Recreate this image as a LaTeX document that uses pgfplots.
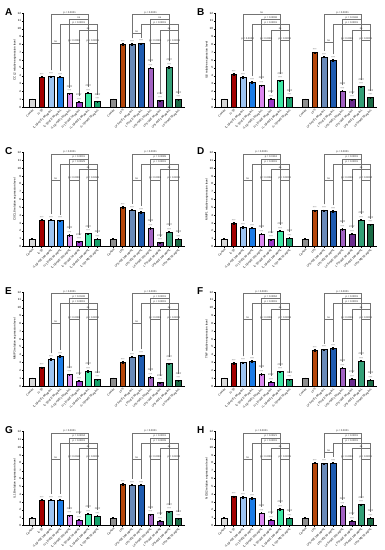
\documentclass[border=0pt]{standalone}
\usepackage{fontspec}
\setmainfont{Liberation Sans}
\usepackage{pgfplots}
\pgfplotsset{compat=1.18}
\definecolor{cL0}{HTML}{D9D9D9}
\definecolor{cL1}{HTML}{A30000}
\definecolor{cL2}{HTML}{9EC5F2}
\definecolor{cL3}{HTML}{1C7CE6}
\definecolor{cL4}{HTML}{DD88F0}
\definecolor{cL5}{HTML}{9C37C9}
\definecolor{cL6}{HTML}{3DE8A4}
\definecolor{cL7}{HTML}{16A06A}
\definecolor{cR0}{HTML}{8F8F8F}
\definecolor{cR1}{HTML}{B5470B}
\definecolor{cR2}{HTML}{6A8AB8}
\definecolor{cR3}{HTML}{1E5BB0}
\definecolor{cR4}{HTML}{A262C2}
\definecolor{cR5}{HTML}{6C2C8E}
\definecolor{cR6}{HTML}{34A077}
\definecolor{cR7}{HTML}{1A6B45}
\newcommand\stars{****}
\newcommand\hashes{\#\#\#\#}
\newcommand\two{\shortstack{\hashes\\\stars}}
\pgfplotsset{
 bs/.style={ybar, bar shift=0pt, bar width=0.62, draw=black, line width=0.3pt,
   error bars/y dir=both, error bars/y explicit,
   error bars/error bar style={line width=0.3pt, black},
   error bars/error mark options={rotate=90, mark size=0.9pt, line width=0.3pt, black}},
 nn/.style={nodes near coords={#1},
   every node near coord/.append style={font=\fontsize{2.4}{2.6}\selectfont, inner sep=0.2pt, yshift=1.3pt, black!75, anchor=south}},
 pan/.style={
   scale only axis, width=162pt, height=94pt, anchor=south west,
   xmin=-1, xmax=16.4, ymin=0, ymax=12,
   axis lines=left, axis line style={-, line width=0.4pt},
   clip=false,
   ytick={0,...,12},
   xtick={0,1,2,3,4,5,6,7,8.7,9.7,10.7,11.7,12.7,13.7,14.7,15.7},
   xticklabels={Control,IL-1β,IL-1β+EE 100 μg/mL,IL-1β+EE 50 μg/mL,IL-1β+WE 100 μg/mL,IL-1β+WE 50 μg/mL,IL-1β+ME 100 μg/mL,IL-1β+ME 50 μg/mL,Control,LPS,LPS+EE 100 μg/mL,LPS+EE 50 μg/mL,LPS+WE 100 μg/mL,LPS+WE 50 μg/mL,LPS+ME 100 μg/mL,LPS+ME 50 μg/mL},
   tick align=outside, major tick length=1.2pt, tick style={line width=0.3pt, black},
   /pgf/number format/assume math mode=true,
   yticklabel style={font=\fontsize{3}{3}\selectfont, inner sep=0.6pt},
   xticklabel style={rotate=45, anchor=north east, font=\fontsize{2.8}{3}\selectfont, inner sep=0.5pt},
   ylabel style={font=\fontsize{3}{3}\selectfont, inner sep=0.5pt},
 },
}
\tikzset{brk/.style={black!55, line width=0.3pt},
 lbl/.style={font=\fontsize{2.6}{2.6}\selectfont, above, inner sep=0.4pt, black!85},
 letter/.style={font=\fontsize{10}{10}\selectfont\bfseries, anchor=north west, inner sep=0pt}}
\def\Lgroup#1,#2,#3,#4,#5,#6,#7,#8\relax{%
\def\LVa{#1}\def\LVb{#2}\def\LVc{#3}\def\LVd{#4}\def\LVe{#5}\def\LVf{#6}\def\LVg{#7}\def\LVh{#8}%
\addplot[fill=cL0,bs] coordinates {(0,#1) +- (0,0.06)};
\addplot[fill=cL1,nn=\stars,bs] coordinates {(1,#2) +- (0,0.1)};
\addplot[fill=cL2,nn=\stars,bs] coordinates {(2,#3) +- (0,0.1)};
\addplot[fill=cL3,nn=\stars,bs] coordinates {(3,#4) +- (0,0.1)};
\addplot[fill=cL4,nn=\two,bs] coordinates {(4,#5) +- (0,0.08)};
\addplot[fill=cL5,nn=\two,bs] coordinates {(5,#6) +- (0,0.06)};
\addplot[fill=cL6,nn=\two,bs] coordinates {(6,#7) +- (0,0.08)};
\addplot[fill=cL7,nn=\two,bs] coordinates {(7,#8) +- (0,0.06)};
}
\def\Rgroup#1,#2,#3,#4,#5,#6,#7,#8\relax{%
\def\RVa{#1}\def\RVb{#2}\def\RVc{#3}\def\RVd{#4}\def\RVe{#5}\def\RVf{#6}\def\RVg{#7}\def\RVh{#8}%
\addplot[fill=cR0,bs] coordinates {(8.7,#1) +- (0,0.06)};
\addplot[fill=cR1,nn=\stars,bs] coordinates {(9.7,#2) +- (0,0.1)};
\addplot[fill=cR2,nn=\stars,bs] coordinates {(10.7,#3) +- (0,0.1)};
\addplot[fill=cR3,nn=\stars,bs] coordinates {(11.7,#4) +- (0,0.1)};
\addplot[fill=cR4,nn=\two,bs] coordinates {(12.7,#5) +- (0,0.08)};
\addplot[fill=cR5,nn=\two,bs] coordinates {(13.7,#6) +- (0,0.06)};
\addplot[fill=cR6,nn=\two,bs] coordinates {(14.7,#7) +- (0,0.08)};
\addplot[fill=cR7,nn=\two,bs] coordinates {(15.7,#8) +- (0,0.06)};
}
\newcommand\Br[6]{\draw[brk] ([yshift=6pt]axis cs:#1,#4) |- node[pos=0.75,lbl]{#6} (axis cs:#2,#3) -- ([yshift=6pt]axis cs:#2,#5);}
\def\Lbr#1;#2;#3;#4;#5;#6;#7;#8;#9\relax{%
\Br{2}{6}{11.8}{\LVc}{\LVg}{#1}
\Br{4}{6}{11.2}{\LVe}{\LVg}{#2}
\Br{3}{7}{10.55}{\LVd}{\LVh}{#3}
\Br{5}{7}{9.85}{\LVf}{\LVh}{#4}
\Br{2}{3}{#8}{\LVc}{\LVd}{#5}
\Br{4}{5}{#9}{\LVe}{\LVf}{#6}
\Br{6}{7}{#9}{\LVg}{\LVh}{#7}
}
\def\Rbr#1;#2;#3;#4;#5;#6;#7;#8;#9\relax{%
\Br{10.7}{14.7}{11.8}{\RVc}{\RVg}{#1}
\Br{12.7}{14.7}{11.2}{\RVe}{\RVg}{#2}
\Br{11.7}{15.7}{10.55}{\RVd}{\RVh}{#3}
\Br{13.7}{15.7}{9.85}{\RVf}{\RVh}{#4}
\Br{10.7}{11.7}{#8}{\RVc}{\RVd}{#5}
\Br{12.7}{13.7}{#9}{\RVe}{\RVf}{#6}
\Br{14.7}{15.7}{#9}{\RVg}{\RVh}{#7}
}
\begin{document}
\begin{tikzpicture}
\path[use as bounding box] (0pt,0pt) rectangle (384pt,550pt);
% ---------- A
\begin{axis}[pan, at={(23pt,443pt)}, ylabel={CCL2 relative expression level}]
\Lgroup 1.0,3.87,3.9,3.87,1.72,0.64,1.8,0.72\relax
\Rgroup 1.0,8.04,8.0,8.1,4.98,0.85,5.1,0.94\relax
\Lbr p < 0.0001;ns;p < 0.0001;ns;ns;p < 0.0001;p < 0.0001;8.2;8.2\relax
\Rbr p < 0.0001;ns;p < 0.0001;ns;ns;p < 0.0001;p < 0.0001;9.4;8.2\relax
\end{axis}
% ---------- B
\begin{axis}[pan, at={(215pt,443pt)}, ylabel={IL6 relative expression level}]
\Lgroup 1.0,4.17,3.8,3.15,2.77,1.06,3.4,1.2\relax
\Rgroup 1.0,6.94,6.4,5.96,2.04,0.94,2.64,1.23\relax
\Lbr ns;p = 0.0006;p < 0.0001;ns;p = 0.0004;p < 0.0001;p < 0.0001;8.5;8.5\relax
\Rbr p < 0.0001;p = 0.0146;p < 0.0001;ns;ns;p < 0.0001;p < 0.0001;8.3;8.5\relax
\end{axis}
% ---------- C
\begin{axis}[pan, at={(23pt,303.5pt)}, ylabel={CXCL8 relative expression level}]
\Lgroup 1.0,3.4,3.4,3.3,1.45,0.65,1.65,0.95\relax
\Rgroup 1.0,5.0,4.7,4.4,2.35,0.5,1.85,1.0\relax
\Lbr p < 0.0001;p < 0.0001;p = 0.0029;ns;ns;p < 0.0001;p = 0.0225;8.5;8.5\relax
\Rbr p < 0.0001;p = 0.0089;p < 0.0001;ns;ns;p < 0.0001;p < 0.0001;8.5;8.5\relax
\end{axis}
% ---------- D
\begin{axis}[pan, at={(215pt,303.5pt)}, ylabel={MMP1 relative expression level}]
\Lgroup 1.0,3.0,2.5,2.4,1.6,0.9,2.0,1.1\relax
\Rgroup 1.0,4.6,4.6,4.5,2.2,1.6,3.4,2.8\relax
\Lbr p < 0.0001;p = 0.0116;p < 0.0001;ns;ns;p = 0.0061;p < 0.0001;8.5;8.5\relax
\Rbr p < 0.0001;p < 0.0001;p < 0.0001;ns;ns;p < 0.0001;p = 0.0004;8.5;8.5\relax
\end{axis}
% ---------- E
\begin{axis}[pan, at={(23pt,164pt)}, ylabel={MMP3 relative expression level}]
\Lgroup 1.0,2.37,3.4,3.8,1.48,0.64,1.9,0.85\relax
\Rgroup 1.0,3.05,3.73,3.9,1.14,0.47,2.88,0.72\relax
\Lbr p < 0.0001;p = 0.0136;p < 0.0001;ns;ns;p = 0.0008;p < 0.0001;8.0;8.5\relax
\Rbr p < 0.0001;p < 0.0001;p < 0.0001;ns;ns;p < 0.0001;p < 0.0001;8.0;8.5\relax
\end{axis}
% ---------- F
\begin{axis}[pan, at={(215pt,164pt)}, ylabel={TNF relative expression level}]
\Lgroup 1.0,2.9,3.0,3.15,1.5,0.55,1.85,0.85\relax
\Rgroup 1.0,4.55,4.65,4.85,2.3,0.9,3.2,0.8\relax
\Lbr p < 0.0001;p = 0.0062;p < 0.0001;ns;ns;p < 0.0001;p = 0.0009;8.5;8.5\relax
\Rbr p < 0.0001;p < 0.0001;p < 0.0001;ns;ns;p < 0.0001;p < 0.0001;8.5;8.5\relax
\end{axis}
% ---------- G
\begin{axis}[pan, at={(23pt,24.5pt)}, ylabel={IL1B relative expression level}]
\Lgroup 1.0,3.3,3.3,3.3,1.3,0.7,1.5,1.2\relax
\Rgroup 1.0,5.3,5.2,5.2,1.4,0.6,1.8,0.9\relax
\Lbr p < 0.0001;p = 0.0004;p < 0.0001;ns;ns;p = 0.0044;p < 0.0001;8.5;8.5\relax
\Rbr p < 0.0001;p < 0.0001;p = 0.0009;ns;ns;p < 0.0001;p = 0.0008;8.5;8.5\relax
\end{axis}
% ---------- H
\begin{axis}[pan, at={(215pt,24.5pt)}, ylabel={NOS2 relative expression level}]
\Lgroup 1.0,3.7,3.6,3.5,1.6,0.7,2.1,1.0\relax
\Rgroup 1.0,8.0,7.9,8.0,2.5,0.6,2.7,1.0\relax
\Lbr p < 0.0001;p = 0.0021;p < 0.0001;ns;ns;p < 0.0001;p = 0.0005;8.5;8.5\relax
\Rbr p < 0.0001;p < 0.0001;p < 0.0001;ns;ns;p < 0.0001;p < 0.0001;9.4;8.5\relax
\end{axis}
\node[letter] at (5pt,542pt) {A};
\node[letter] at (197pt,542pt) {B};
\node[letter] at (5pt,402.5pt) {C};
\node[letter] at (197pt,402.5pt) {D};
\node[letter] at (5pt,263pt) {E};
\node[letter] at (197pt,263pt) {F};
\node[letter] at (5pt,123.5pt) {G};
\node[letter] at (197pt,123.5pt) {H};
\end{tikzpicture}
\end{document}
